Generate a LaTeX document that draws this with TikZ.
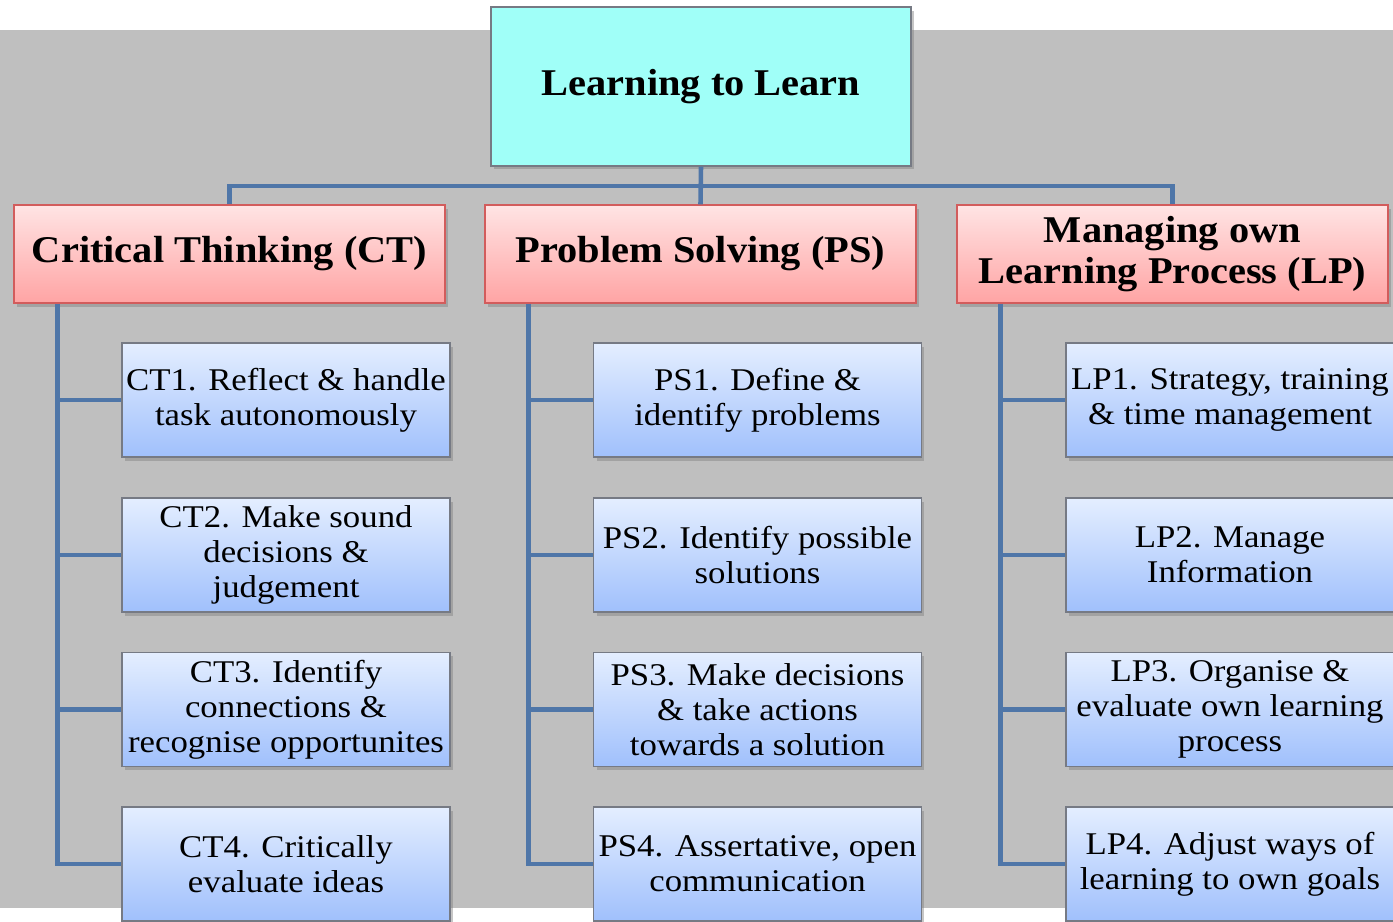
\documentclass[tikz,border=0pt]{standalone}
\usepackage{fontspec}
\setmainfont{Liberation Serif}
\newfontfamily\widefont[FakeStretch=1.1]{Liberation Serif}
\newfontfamily\widebold[FakeStretch=1.07]{Liberation Serif Bold}
\usepackage{tikz}
\usetikzlibrary{calc}
\usetikzlibrary{positioning}
\usetikzlibrary{shadows}
\definecolor{bggray}{RGB}{191,191,191}
\definecolor{linkblue}{RGB}{79,118,168}
\definecolor{rootcyan}{RGB}{160,255,248}
\definecolor{catline}{RGB}{210,92,92}
\definecolor{cattop}{RGB}{255,228,228}
\definecolor{catbot}{RGB}{255,164,164}
\definecolor{subtop}{RGB}{228,238,255}
\definecolor{subbot}{RGB}{160,192,252}
\definecolor{subline}{RGB}{118,122,132}
\tikzstyle{boxshadow} = [drop shadow={opacity=0.45, shadow xshift=0.06cm, shadow yshift=-0.07cm}]
\tikzstyle{root} = [rectangle, draw=subline, thick, fill=rootcyan, boxshadow, minimum width=8.4cm, minimum height=3.18cm, font=\widebold\fontsize{21.5}{24}\selectfont]
\tikzstyle{cat} = [rectangle, draw=catline, thick, top color=cattop, bottom color=catbot, boxshadow, minimum width=8.62cm, minimum height=1.96cm, align=center, inner sep=1pt, font=\widebold\fontsize{21.5}{23}\selectfont]
\tikzstyle{sub} = [rectangle, draw=subline, thick, top color=subtop, bottom color=subbot, boxshadow, minimum width=6.56cm, minimum height=2.28cm, align=center, inner sep=1pt, font=\widefont\fontsize{18}{19.8}\selectfont]
\tikzstyle{link} = [-, draw=linkblue, line width=2.6pt]

\begin{document}
\begin{tikzpicture}[x=0.02cm, y=-0.02cm]
\useasboundingbox (0, 0) rectangle (1393, 921);
\fill [bggray] (0, 30) rectangle (1393, 908);

\node [root] (L) at (701, 86.5) {Learning to Learn};

\node [cat] (CT) at (229.5, 254) {Critical Thinking (CT)};
\node [cat] (PS) at (700.5, 254) {Problem Solving (PS)};
\node [cat] (LP) at (1172.5, 254) {Managing own\\Learning Process (LP)};

\node [sub] (CT1) at (286, 400) {CT1. Reflect \& handle\\task autonomously};
\node [sub] (CT2) at (286, 555) {CT2. Make sound\\decisions \&\\judgement};
\node [sub] (CT3) at (286, 709.5) {CT3. Identify\\connections \&\\recognise opportunites};
\node [sub] (CT4) at (286, 864) {CT4. Critically\\evaluate ideas};

\node [sub] (PS1) at (757.5, 400) {PS1. Define \&\\identify problems};
\node [sub] (PS2) at (757.5, 555) {PS2. Identify possible\\solutions};
\node [sub] (PS3) at (757.5, 709.5) {PS3. Make decisions\\\& take actions\\towards a solution};
\node [sub] (PS4) at (757.5, 864) {PS4. Assertative, open\\communication};

\node [sub] (LP1) at (1230, 400) {LP1. Strategy, training\\\& time management};
\node [sub] (LP2) at (1230, 555) {LP2. Manage\\Information};
\node [sub] (LP3) at (1230, 709.5) {LP3. Organise \&\\evaluate own learning\\process};
\node [sub] (LP4) at (1230, 864) {LP4. Adjust ways of\\learning to own goals};

% top of the tree
\coordinate (bar) at (701, 186);
\draw [link] (L.south) to (PS.north);
\draw [link] (CT.north) |- (bar) -| (LP.north);

% trunks and branches
\foreach \c in {CT, PS, LP} {
  \coordinate (\c t) at ($(\c.south west)+(44, 0)$);
  \draw [link] (\c t) |- (\c4.west);
  \foreach \i in {1, 2, 3} {
    \draw [link] (\c t |- \c\i.west) to (\c\i.west);
  }
}
\end{tikzpicture}
\end{document}
